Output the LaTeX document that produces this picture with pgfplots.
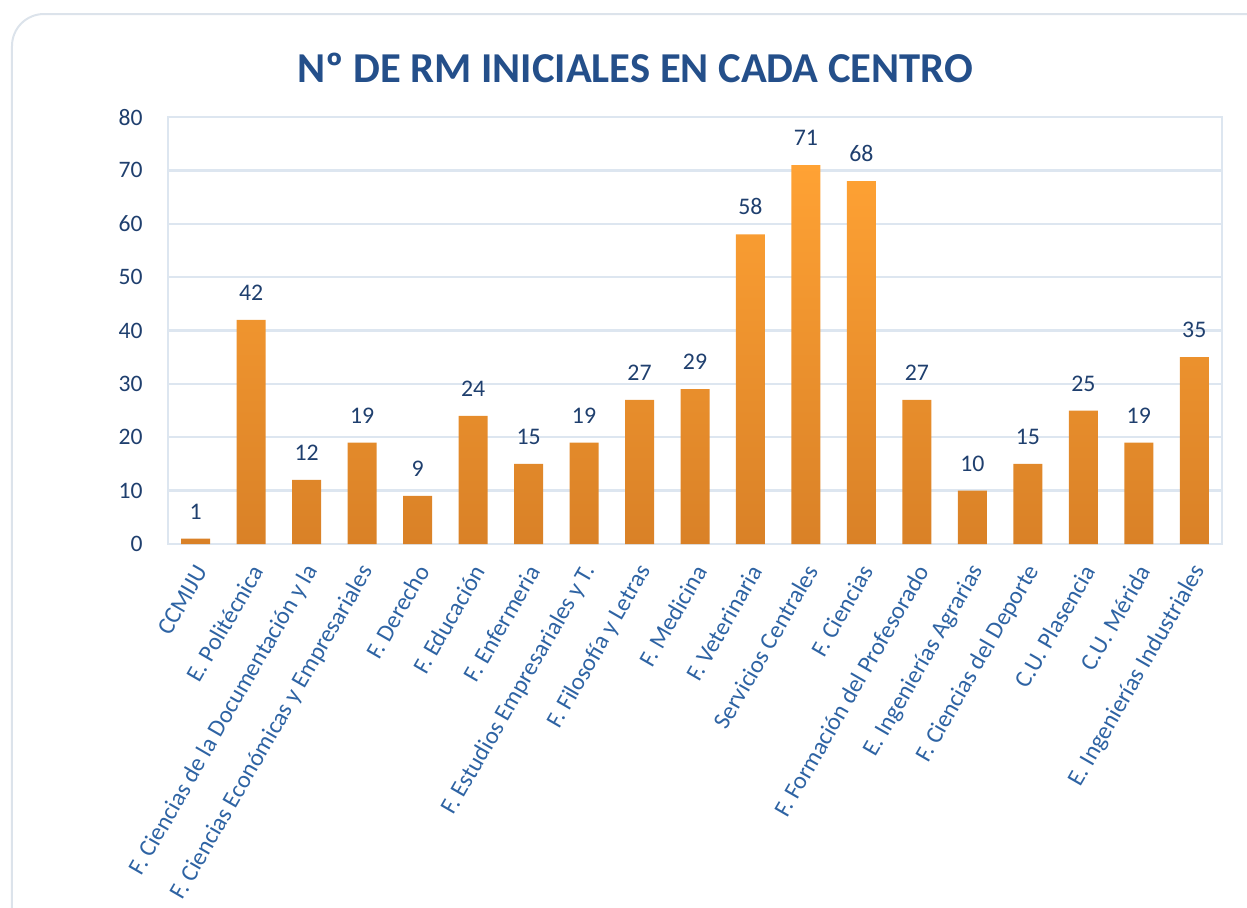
\documentclass[border=0pt]{standalone}
\usepackage{pgfplots}
\pgfplotsset{compat=1.18}
\usepackage{fontspec}
\setmainfont{Carlito}
\definecolor{titleblue}{HTML}{244F8A}
\definecolor{tickblue}{HTML}{1F3F6E}
\definecolor{labblue}{HTML}{2E63A3}
\definecolor{gridc}{HTML}{DDE6F0}
\definecolor{bartop}{HTML}{FFA234}
\definecolor{barbot}{HTML}{D98127}
\definecolor{framec}{HTML}{DCE3EB}
\begin{document}
\begin{tikzpicture}
\useasboundingbox (-84pt,-181.5pt) rectangle (539.5pt,272pt);
\draw[framec, line width=1pt, rounded corners=16pt] (-78pt,-200pt) -- (-78pt,265pt) -- (560pt,265pt);
\node[font=\bfseries\fontsize{21.3}{25}\selectfont, text=titleblue] at (233.5pt,238pt) {Nº DE RM INICIALES EN CADA CENTRO};
\begin{axis}[
  scale only axis,
  width=527pt, height=213.5pt,
  xmin=-0.5, xmax=18.5,
  ymin=0, ymax=80,
  ytick={0,10,...,80},
  xtick={0,...,18},
  xticklabels={CCMIJU, E. Politécnica, F. Ciencias de la Documentación y la, F. Ciencias Económicas y Empresariales, F. Derecho, F. Educación, F. Enfermeria, F. Estudios Empresariales y T., F. Filosofía y Letras, F. Medicina, F. Veterinaria, Servicios Centrales, F. Ciencias, F. Formación del Profesorado, E. Ingenierías Agrarias, F. Ciencias del Deporte, C.U. Plasencia, C.U. Mérida, E. Ingenierías Industriales},
  major tick length=0pt,
  ymajorgrids,
  grid style={gridc, line width=1.2pt},
  axis line style={gridc, line width=1.2pt},
  /pgf/number format/assume math mode=true,
  yticklabel style={font=\fontsize{11.8}{14}\selectfont, text=tickblue, anchor=east, inner sep=0pt, xshift=-12.5pt},
  xticklabel style={font=\fontsize{12.1}{14}\selectfont, text=labblue, xshift=3pt, yshift=-11.5pt, rotate=60, anchor=east, inner sep=0pt},
  nodes near coords,
  every node near coord/.append style={font=\fontsize{11.9}{14}\selectfont, text=tickblue, anchor=south, inner sep=0pt, yshift=9.5pt},
]
\addplot[ybar, bar width=14.5pt, draw=none, top color=bartop, bottom color=barbot] coordinates {
(0,1) (1,42) (2,12) (3,19) (4,9) (5,24) (6,15) (7,19) (8,27) (9,29) (10,58) (11,71) (12,68) (13,27) (14,10) (15,15) (16,25) (17,19) (18,35)
};
\end{axis}
\end{tikzpicture}
\end{document}
